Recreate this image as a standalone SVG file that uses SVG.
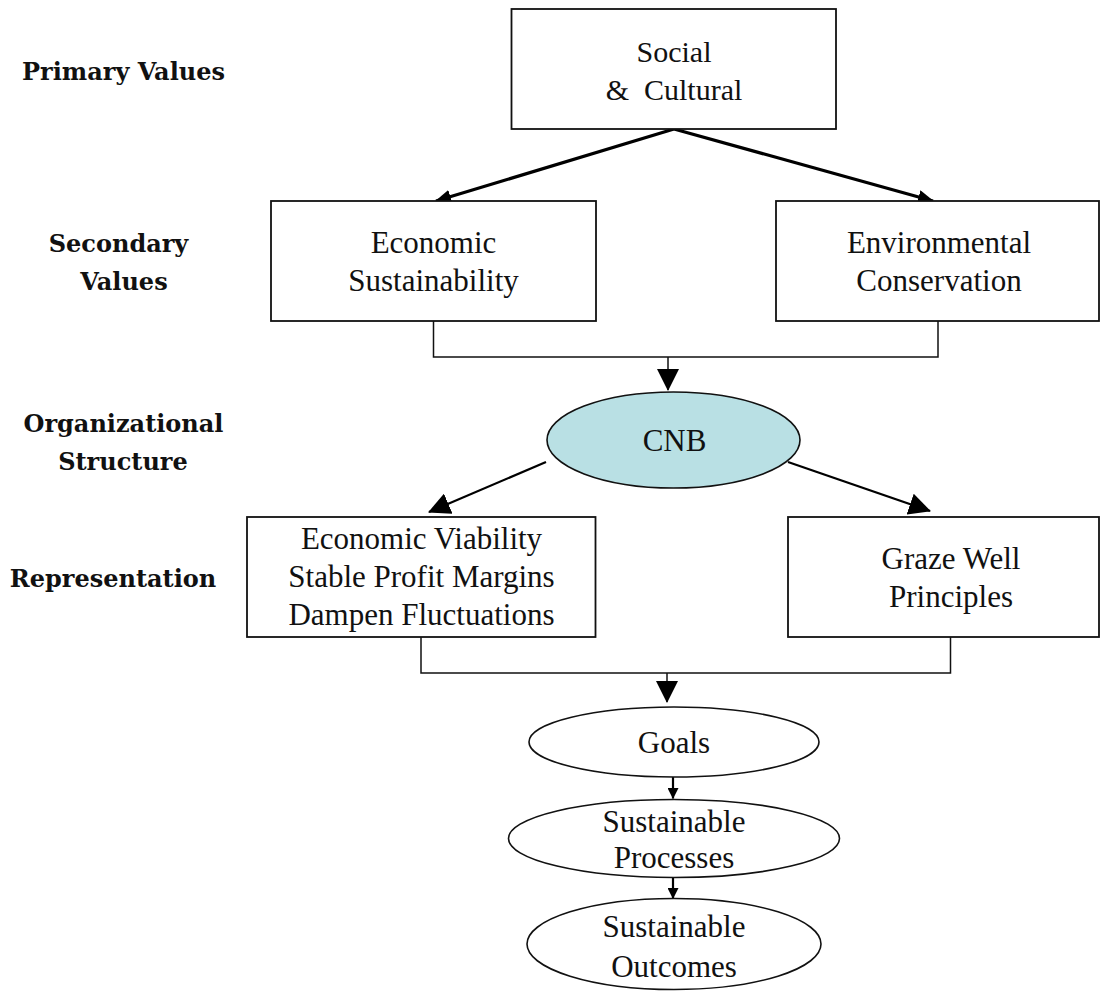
<svg xmlns="http://www.w3.org/2000/svg" width="1100" height="991" viewBox="0 0 1100 991">
  <style>
    .box { fill: #ffffff; stroke: #111111; stroke-width: 1.8; }
    .oval { fill: #ffffff; stroke: #111111; stroke-width: 1.6; }
    .cnb { fill: #b9e0e4; stroke: #111111; stroke-width: 1.6; }
    .txt { font-family: "Liberation Serif", "Times New Roman", serif; font-size: 31px; fill: #111111; text-anchor: middle; white-space: pre; }
    .txt.sm { font-size: 30px; }
    .lbl { font-family: "DejaVu Serif", "Liberation Serif", serif; font-weight: bold; font-size: 24px; fill: #111111; text-anchor: middle; }
    .thick { fill: none; stroke: #000000; stroke-width: 3.2; }
    .mid { fill: none; stroke: #000000; stroke-width: 2.2; }
    .thin { fill: none; stroke: #111111; stroke-width: 1.5; }
  </style>
  <defs>
    <marker id="headThick" markerUnits="userSpaceOnUse" viewBox="0 0 16 14" markerWidth="16" markerHeight="14" refX="15" refY="7" orient="auto">
      <path d="M0,0 L16,7 L0,14 Z" fill="#000000"/>
    </marker>
    <marker id="headBig" markerUnits="userSpaceOnUse" viewBox="0 0 22 22" markerWidth="22" markerHeight="22" refX="21" refY="11" orient="auto">
      <path d="M0,0 L22,11 L0,22 Z" fill="#000000"/>
    </marker>
    <marker id="headSmall" markerUnits="userSpaceOnUse" viewBox="0 0 11 11" markerWidth="11" markerHeight="11" refX="10.5" refY="5.5" orient="auto">
      <path d="M0,0 L11,5.5 L0,11 Z" fill="#000000"/>
    </marker>
  </defs>

  <!-- level labels -->
  <g id="labels">
    <text class="lbl" x="123.5" y="80">Primary Values</text>
    <text class="lbl" x="118.5" y="252">Secondary</text>
    <text class="lbl" x="124" y="290">Values</text>
    <text class="lbl" x="123.5" y="431.5">Organizational</text>
    <text class="lbl" x="123" y="470">Structure</text>
    <text class="lbl" x="113" y="586.5">Representation</text>
  </g>

  <!-- connectors -->
  <g id="connectors">
    <path class="thick" d="M674,129 L436,201" marker-end="url(#headThick)"/>
    <path class="thick" d="M674,129 L933,201" marker-end="url(#headThick)"/>
    <path class="thin" d="M433.5,321 V357 H938 V321"/>
    <path class="thin" d="M668,357 V390" marker-end="url(#headBig)"/>
    <path class="mid" d="M546,462 L429,512" marker-end="url(#headBig)"/>
    <path class="mid" d="M788,462 L930,511" marker-end="url(#headBig)"/>
    <path class="thin" d="M421,637 V673 H950.5 V637"/>
    <path class="thin" d="M667,673 V702" marker-end="url(#headBig)"/>
    <path class="mid" d="M673,777 V798.5" marker-end="url(#headSmall)"/>
    <path class="mid" d="M673,877 V898.5" marker-end="url(#headSmall)"/>
  </g>

  <g id="social">
    <rect class="box" x="511.5" y="9" width="324.5" height="120"/>
    <text class="txt sm" x="674" y="62">Social</text>
    <text class="txt sm" x="674" y="99.5">&amp;  Cultural</text>
  </g>

  <g id="economic-sustainability">
    <rect class="box" x="271" y="201" width="325" height="120"/>
    <text class="txt" x="433.5" y="252.5">Economic</text>
    <text class="txt" x="433.5" y="290.5">Sustainability</text>
  </g>

  <g id="environmental-conservation">
    <rect class="box" x="776" y="201" width="323" height="120"/>
    <text class="txt" x="939" y="252.5">Environmental</text>
    <text class="txt" x="939" y="290.5">Conservation</text>
  </g>

  <g id="cnb">
    <ellipse class="cnb" cx="673.5" cy="440" rx="126.5" ry="48"/>
    <text class="txt" x="674.5" y="450.5">CNB</text>
  </g>

  <g id="economic-viability">
    <rect class="box" x="247" y="517" width="348.5" height="120"/>
    <text class="txt" x="421.5" y="548.5">Economic Viability</text>
    <text class="txt" x="421.5" y="587">Stable Profit Margins</text>
    <text class="txt" x="421.5" y="625">Dampen Fluctuations</text>
  </g>

  <g id="graze-well">
    <rect class="box" x="788" y="517" width="311" height="120"/>
    <text class="txt" x="951" y="569">Graze Well</text>
    <text class="txt" x="951" y="606.5">Principles</text>
  </g>

  <g id="goals">
    <ellipse class="oval" cx="674" cy="742" rx="145" ry="35"/>
    <text class="txt" x="674" y="753">Goals</text>
  </g>

  <g id="sustainable-processes">
    <ellipse class="oval" cx="674" cy="838.5" rx="165.5" ry="39"/>
    <text class="txt" x="674" y="831.5">Sustainable</text>
    <text class="txt" x="674" y="868">Processes</text>
  </g>

  <g id="sustainable-outcomes">
    <ellipse class="oval" cx="674" cy="944" rx="147" ry="45.5"/>
    <text class="txt" x="674" y="936.5">Sustainable</text>
    <text class="txt" x="674" y="976.5">Outcomes</text>
  </g>
</svg>
